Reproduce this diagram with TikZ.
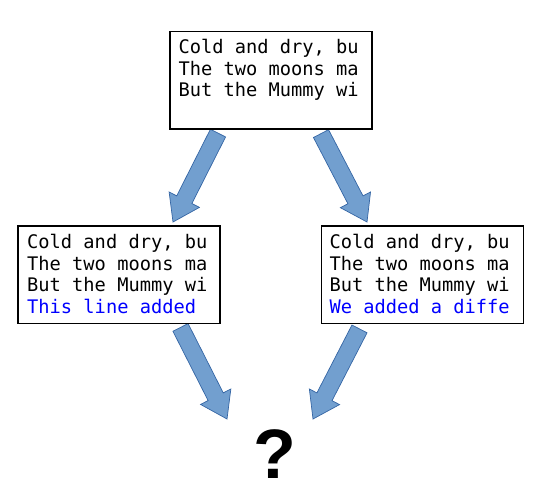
\documentclass[tikz,border=0pt]{standalone}
\usepackage{fontspec}
\usetikzlibrary{calc,backgrounds}
\newfontfamily\codefont{DejaVu Sans Mono}
\newfontfamily\qfont{Liberation Sans}
\definecolor{arrowfill}{HTML}{729FCF}
\definecolor{arrowline}{HTML}{3465A4}
\definecolor{addblue}{RGB}{0,0,255}
\tikzset{
  textbox/.style={draw=black, line width=1.6pt, fill=white, minimum width=202pt, minimum height=97.5pt, inner sep=0pt},
  codetext/.style={anchor=base west, inner sep=0pt, font=\codefont\fontsize{18.7pt}{21.7pt}\selectfont},
  barrow/.style={fill=arrowfill, draw=arrowline, line width=0.7pt, line join=miter},
}
\newcommand\blockarrow[2]{%
  \coordinate (#1h) at ($(#2)!25pt!(#1)$);
  \draw[barrow] ($(#1)!8.5pt!90:(#2)$) -- ($(#1h)!8.5pt!-90:(#1)$) -- ($(#1h)!17pt!-90:(#1)$) -- (#2)
     -- ($(#1h)!17pt!90:(#1)$) -- ($(#1h)!8.5pt!90:(#1)$) -- ($(#1)!8.5pt!-90:(#2)$) -- cycle;}
\begin{document}
\begin{tikzpicture}[x=1pt,y=-1pt]
\useasboundingbox (0,0) rectangle (540,495);
% boxes
\node[textbox, anchor=north west] (top) at (169,30.7) {};
\node[textbox, anchor=north west] (left) at (17.3,225) {};
\node[textbox, anchor=north west] (right) at (320.7,225) {};
% texts
\node[codetext] (toptext) at ($(top.north west)+(9.3,22.6)$) {\begin{tabular}[t]{@{}l@{}}Cold and dry, bu\\The two moons ma\\But the Mummy wi\end{tabular}};
\node[codetext] (lefttext) at ($(left.north west)+(9.7,23.3)$) {\begin{tabular}[t]{@{}l@{}}Cold and dry, bu\\The two moons ma\\But the Mummy wi\\\textcolor{addblue}{This line added}\end{tabular}};
\node[codetext] (righttext) at ($(right.north west)+(8.7,23.3)$) {\begin{tabular}[t]{@{}l@{}}Cold and dry, bu\\The two moons ma\\But the Mummy wi\\\textcolor{addblue}{We added a diffe}\end{tabular}};
% question mark
\node[anchor=base, inner sep=0pt, font=\qfont\bfseries\fontsize{70pt}{70pt}\selectfont] (q) at (275,478) {?};
% arrow end points
\coordinate (a1s) at ($(top.south west)+(49,3.3)$);
\coordinate (a1e) at ($(left.north west)+(155.7,-3)$);
\coordinate (a2s) at ($(top.south west)+(152,3.8)$);
\coordinate (a2e) at ($(right.north west)+(46.3,-3)$);
\coordinate (a3s) at ($(left.south west)+(163.2,3.3)$);
\coordinate (a3e) at ($(q.base)+(-48,-59)$);
\coordinate (a4s) at ($(right.south west)+(38.8,4.8)$);
\coordinate (a4e) at ($(q.base)+(38,-59)$);
\begin{pgfonlayer}{background}
\blockarrow{a1s}{a1e}
\blockarrow{a2s}{a2e}
\blockarrow{a3s}{a3e}
\blockarrow{a4s}{a4e}
\end{pgfonlayer}
\end{tikzpicture}
\end{document}
